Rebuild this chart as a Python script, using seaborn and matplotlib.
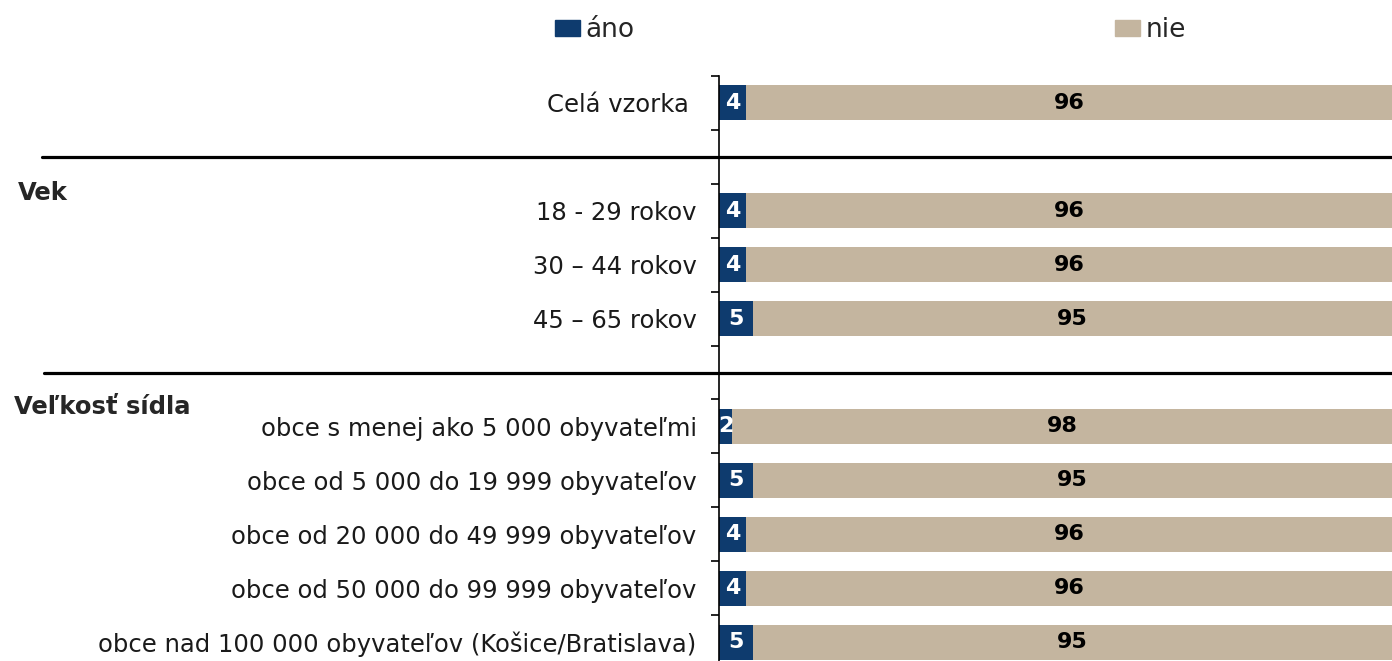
import pandas as pd
import matplotlib
matplotlib.use("Agg")
import matplotlib.pyplot as plt
import matplotlib.transforms as mtransforms
from matplotlib.patches import Patch
import seaborn as sns

# ----------------------------
# Dáta
# ----------------------------
skupiny = [
    "Celá vzorka ",
    "18 - 29 rokov",
    "30 – 44 rokov",
    "45 – 65 rokov",
    "obce s menej ako 5 000 obyvateľmi",
    "obce od 5 000 do 19 999 obyvateľov",
    "obce od 20 000 do 49 999 obyvateľov",
    "obce od 50 000 do 99 999 obyvateľov",
    "obce nad 100 000 obyvateľov (Košice/Bratislava)",
]
ano = [4, 4, 4, 5, 2, 5, 4, 4, 5]
nie = [96, 96, 96, 95, 98, 95, 96, 96, 95]

# poradie riadkov vrátane prázdnych oddeľovacích riadkov
poradie = [skupiny[0], " ", skupiny[1], skupiny[2], skupiny[3], "  "] + skupiny[4:]
sekcie = ["Vek", "Veľkosť sídla"]

farba_ano = "#0E3B6E"
farba_nie = "#C4B59F"

df = pd.DataFrame({"Skupina": skupiny, "ano": ano, "nie": nie})
df["spolu"] = df["ano"] + df["nie"]

# ----------------------------
# Graf
# ----------------------------
sns.set_style("white")
plt.rcParams["font.family"] = ["DejaVu Sans"]

fig = plt.figure(figsize=(13.92, 6.61), dpi=100)
ax = fig.add_axes([0.5165, -0.0121, 0.4835, 0.8971])

sns.barplot(data=df, y="Skupina", x="spolu", order=poradie, color=farba_nie,
            saturation=1, width=0.65, linewidth=0, ax=ax)
sns.barplot(data=df, y="Skupina", x="ano", order=poradie, color=farba_ano,
            saturation=1, width=0.65, linewidth=0, ax=ax)

ax.set_xlim(0, 100)
ax.set_ylim(10.5, -0.5)
ax.set_xlabel("")
ax.set_ylabel("")
ax.set_xticks([])

for side in ["top", "right", "bottom"]:
    ax.spines[side].set_visible(False)
ax.spines["left"].set_color("black")
ax.spines["left"].set_linewidth(1.2)

ax.tick_params(axis="y", which="major", length=0, pad=16, labelsize=17.5,
               labelcolor="#1a1a1a")
ax.set_yticks([i + 0.5 for i in range(-1, 11)], minor=True)
ax.tick_params(axis="y", which="minor", left=True, length=6, width=1.2,
               color="black")

# hodnoty v pruhoch
for i, skup in enumerate(skupiny):
    y = poradie.index(skup)
    ax.text(ano[i] / 2, y, str(ano[i]), ha="center", va="center",
            color="white", fontsize=16, fontweight="bold")
    ax.text(ano[i] + nie[i] / 2, y, str(nie[i]), ha="center", va="center",
            color="black", fontsize=16, fontweight="bold")

# oddeľovacie čiary a nadpisy sekcií
blend = mtransforms.blended_transform_factory(fig.transFigure, ax.transData)
for y_sep, x_start in [(1, 42 / 1392), (5, 44 / 1392)]:
    ax.plot([x_start, 1.0], [y_sep, y_sep], color="black", lw=2.3,
            transform=blend, clip_on=False)

ax.text(18 / 1392, 1.67, sekcie[0], transform=blend, ha="left", va="center",
        fontsize=17.5, fontweight="bold")
ax.text(14 / 1392, 5.64, sekcie[1], transform=blend, ha="left", va="center",
        fontsize=17.5, fontweight="bold")

# legenda
handles = [Patch(color=farba_ano, label="áno"), Patch(color=farba_nie, label="nie")]
fig.legend(handles=handles, loc="center left", ncol=2, mode="expand",
           bbox_to_anchor=(555 / 1392, 1 - 30 / 661, (1186 - 555) / 1392, 0),
           frameon=False, fontsize=19, handlelength=0.95, handleheight=0.55,
           handletextpad=0.2, borderpad=0, borderaxespad=0)

plt.savefig("out.png", dpi=100)
